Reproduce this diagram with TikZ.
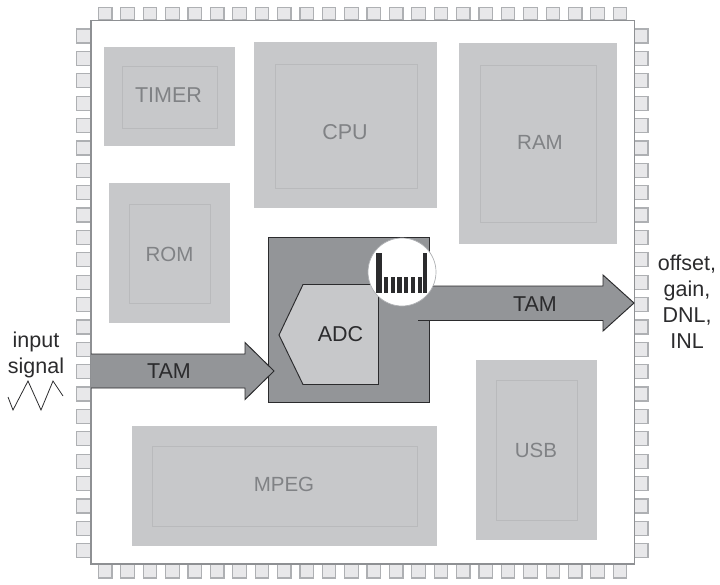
\documentclass[tikz,border=0pt]{standalone}
\usepackage{fontspec}
\setmainfont{Liberation Sans}
\definecolor{blockfill}{HTML}{C7C8CA}
\definecolor{blockline}{HTML}{B9BABC}
\definecolor{padfill}{HTML}{E8E8EA}
\definecolor{padline}{HTML}{AEB0B3}
\definecolor{chipline}{HTML}{8E9093}
\definecolor{darkfill}{HTML}{939598}
\definecolor{inkline}{HTML}{2B2B2D}
\definecolor{softtext}{HTML}{808285}
\tikzset{
  x=1pt,y=-1pt,
  padbox/.style={draw=padline,fill=padfill,line width=1.2pt},
  outerblock/.style={fill=blockfill},
  innerblock/.style={draw=blockline,line width=.7pt},
  softlabel/.style={text=softtext,font=\fontsize{21.5}{24}\selectfont,inner sep=0pt},
  softsmall/.style={text=softtext,font=\fontsize{20.5}{24}\selectfont,inner sep=0pt},
  darklabel/.style={text=inkline,font=\fontsize{21.5}{24}\selectfont,inner sep=0pt},
  sidelabel/.style={text=inkline,font=\fontsize{21.5}{26}\selectfont,align=center,inner sep=0pt},
  ink/.style={draw=inkline,line width=.95pt},
  bar/.style={fill=inkline},
}
\newcommand{\chipblock}[8]{%
  \fill[outerblock] (#1,#3) rectangle (#2,#4);
  \draw[innerblock] (#5,#7) rectangle (#6,#8);
}
\begin{document}
\begin{tikzpicture}
\useasboundingbox (0,0) rectangle (720,584);
% pads
\foreach \i in {0,...,23}{
  \pgfmathsetmacro{\p}{\i*22.38}
  \draw[padbox] ({98.5+\p},7.5) rectangle ({112+\p},20);
  \draw[padbox] ({98.5+\p},564) rectangle ({112+\p},578);
  \draw[padbox] (76.5,{29+\p}) rectangle (91,{43+\p});
  \draw[padbox] (634,{29+\p}) rectangle (648,{43+\p});
}
% die
\draw[chipline,fill=white,line width=1.4pt] (91,20.5) rectangle (634.5,564);
% blocks
\chipblock{104}{235}{47}{146}{122}{217}{66}{128}
\node[softlabel] (timer) at (168.5,95.5) {TIMER};
\chipblock{254}{437}{42}{208}{275}{417}{64}{188}
\node[softlabel] (cpu) at (345,132.5) {CPU};
\chipblock{459}{617}{43}{244}{480}{596}{65}{222}
\node[softsmall] (ram) at (540,142.5) {RAM};
\chipblock{109}{230}{183}{323}{129}{210}{204}{303}
\node[softsmall] (rom) at (169.5,254.5) {ROM};
\chipblock{132}{437}{426}{546}{152}{417}{446}{526}
\node[softsmall] (mpeg) at (284,484.5) {MPEG};
\chipblock{476}{597}{360}{540}{496}{577}{380}{520}
\node[softsmall] (usb) at (536,450) {USB};
% ADC block
\draw[ink,fill=darkfill] (268,237) rectangle (429.5,402);
% output arrow
\fill[darkfill] (418,286) -- (603,286) -- (603,275) -- (634,303) -- (603,331) -- (603,320) -- (418,320) -- cycle;
\draw[ink,line join=miter] (418,320.5) -- (603,320.5) -- (603,331) -- (634,303) -- (603,275) -- (603,286) -- (425,286);
% input arrow
\fill[darkfill] (91,354) -- (245,354) -- (245,342.5) -- (274,371) -- (245,399.5) -- (245,388) -- (91,388) -- cycle;
\draw[ink,line join=miter] (91,354) -- (245,354) -- (245,342.5) -- (274,371) -- (245,399.5) -- (245,388) -- (91,388);
\node[darklabel] (tamin) at (169,371.5) {TAM};
\node[darklabel] (tamout) at (535,304) {TAM};
% ADC
\draw[ink,fill=blockfill] (303,284.5) -- (378.5,284.5) -- (378.5,384.5) -- (303,384.5) -- (279,335) -- cycle;
\node[darklabel] (adc) at (340.5,334.5) {ADC};
% histogram lens
\draw[fill=white,draw=padline,line width=.7pt] (402,272) circle (34);
\fill[bar] (376,253) rectangle (382,293);
\foreach \x in {383.5,390.5,397.3,404,411,417.5}{\fill[bar] (\x,277) rectangle ({\x+4.3},293);}
\fill[bar] (423,253) rectangle (427,293);
% side labels
\node[sidelabel] (insig) at (36,355) {input\\signal};
\node[sidelabel] (outs) at (687,302) {offset,\\gain,\\DNL,\\INL};
% wave
\draw[inkline,line width=.8pt,line join=miter] (8,397) -- (13,410) -- (28,381) -- (41,410) -- (53,381) -- (63,396);
\end{tikzpicture}
\end{document}
